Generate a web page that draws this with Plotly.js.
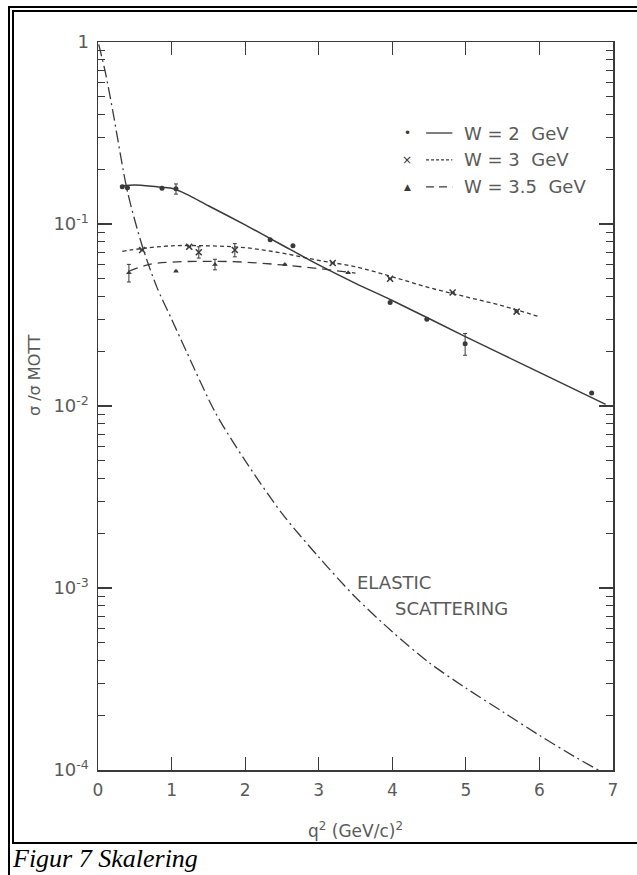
<!DOCTYPE html>
<html>
<head>
<meta charset="utf-8">
<script src="https://cdn.plot.ly/plotly-3.0.1.min.js"></script>
<style>
  html, body { margin:0; padding:0; background:#fff; }
  #wrap { position:relative; width:637px; height:875px; overflow:hidden; }
  #chart { position:absolute; left:0; top:0; width:637px; height:875px; }
  .ln { position:absolute; background:#000; pointer-events:none; }
</style>
</head>
<body>
<div id="wrap">
  <div id="chart"></div>
  <div class="ln" style="left:8px; top:6px; width:2px; height:869px;"></div>
  <div class="ln" style="left:8px; top:6px; width:629px; height:2px;"></div>
  <div class="ln" style="left:12px; top:10px; width:2px; height:834px;"></div>
  <div class="ln" style="left:12px; top:10px; width:625px; height:2px;"></div>
  <div class="ln" style="left:12px; top:842px; width:625px; height:2px;"></div>
</div>
<script>
// ---- data (q^2 in (GeV/c)^2, ratio sigma/sigma_Mott) ----
const elasticQ2    = [0.01, 0.1, 0.2, 0.4, 0.6, 0.8, 1.0, 1.2, 1.6, 2.0, 2.5, 3.0, 3.5, 4.0, 4.5, 5.0, 5.5, 6.0, 6.5, 6.8];
const elasticRatio = [0.97, 0.68, 0.42, 0.151, 0.076, 0.045, 0.030, 0.0200, 0.00912, 0.00501, 0.00257, 0.00148, 0.00089, 0.000575, 0.000389, 0.000282, 0.000209, 0.000155, 0.000117, 0.0001];

const w2FitQ2    = [0.33, 0.5, 0.8, 1.0, 1.2, 1.5, 2.0, 2.5, 3.0, 3.5, 4.0, 5.0, 6.0, 6.9];
const w2FitRatio = [0.162, 0.164, 0.160, 0.157, 0.146, 0.126, 0.0989, 0.0767, 0.0596, 0.0472, 0.0380, 0.0240, 0.0153, 0.0102];
const w2PtQ2     = [0.33, 0.40, 0.87, 1.06, 2.34, 2.65, 3.97, 4.47, 4.99, 6.71];
const w2PtRatio  = [0.160, 0.158, 0.157, 0.156, 0.082, 0.076, 0.037, 0.030, 0.022, 0.0118];
const w2PtErr    = [0, 0, 0, 0.010, 0, 0, 0, 0, 0.003, 0];

const w3FitQ2    = [0.33, 0.6, 1.0, 1.5, 2.0, 2.5, 3.0, 3.5, 4.0, 4.5, 5.0, 5.5, 6.0];
const w3FitRatio = [0.0708, 0.0733, 0.0759, 0.0759, 0.0741, 0.0692, 0.0631, 0.0582, 0.0513, 0.0447, 0.0398, 0.0355, 0.0309];
const w3PtQ2     = [0.60, 1.24, 1.37, 1.86, 3.19, 3.97, 4.82, 5.69];
const w3PtRatio  = [0.072, 0.075, 0.070, 0.072, 0.061, 0.050, 0.042, 0.033];
const w3PtErr    = [0, 0, 0.005, 0.006, 0, 0, 0, 0];

const w35FitQ2    = [0.42, 0.7, 1.0, 1.5, 2.0, 2.5, 3.0, 3.5];
const w35FitRatio = [0.055, 0.060, 0.0617, 0.0624, 0.0617, 0.0596, 0.0569, 0.0537];
const w35PtQ2     = [0.42, 1.06, 1.59, 2.54, 3.40];
const w35PtRatio  = [0.054, 0.055, 0.060, 0.060, 0.054];
const w35PtErr    = [0.006, 0, 0.004, 0, 0];

const xTickVals = [0, 1, 2, 3, 4, 5, 6, 7];
const yTickVals = [1e-4, 1e-3, 1e-2, 1e-1, 1];
const yTickText = ['10<sup>-4</sup>', '10<sup>-3</sup>', '10<sup>-2</sup>', '10<sup>-1</sup>', '1'];
const legendLabels = ['W = 2  GeV', 'W = 3  GeV', 'W = 3.5  GeV'];
const legendGlyphs = ['\u2022', '\u00d7', '\u25b2'];

// ---- styles ----
const ink = '#3a3a3a';
const txt = '#5a5a5a';
const fnt = 'DejaVu Sans, sans-serif';

const minorVals = [];
for (let e = -4; e < 0; e++) for (let m = 2; m <= 9; m++) minorVals.push(m * Math.pow(10, e));

function errBar(arr) {
  return {type: 'data', array: arr, visible: true, color: ink, thickness: 1, width: 2};
}

const traces = [
  {x: elasticQ2, y: elasticRatio, mode: 'lines', line: {color: ink, width: 1.3, dash: '12px,4px,2px,4px', shape: 'spline', smoothing: 0.8}, showlegend: false},
  {x: w2FitQ2, y: w2FitRatio, mode: 'lines', line: {color: ink, width: 1.5, shape: 'spline', smoothing: 0.8}, showlegend: false},
  {x: w3FitQ2, y: w3FitRatio, mode: 'lines', line: {color: ink, width: 1.3, dash: '4px,3px', shape: 'spline'}, showlegend: false},
  {x: w35FitQ2, y: w35FitRatio, mode: 'lines', line: {color: ink, width: 1.3, dash: '9px,6px', shape: 'spline'}, showlegend: false},
  {x: w2PtQ2, y: w2PtRatio, mode: 'markers', error_y: errBar(w2PtErr), marker: {symbol: 'circle', size: 5, color: ink}, showlegend: false},
  {x: w3PtQ2, y: w3PtRatio, mode: 'markers', error_y: errBar(w3PtErr), marker: {symbol: 'x-thin', size: 6, line: {color: ink, width: 1.5}}, showlegend: false},
  {x: w35PtQ2, y: w35PtRatio, mode: 'markers', error_y: errBar(w35PtErr), marker: {symbol: 'triangle-up', size: 5, color: ink}, showlegend: false}
];

// legend drawn as paper-anchored decoration
const legRowsY = [0.875, 0.838, 0.801];
const legDash = ['solid', '3px,2px', '8px,5px'];
const shapes = [];
const annotations = [];
legRowsY.forEach((yy, i) => {
  shapes.push({type: 'line', xref: 'paper', yref: 'paper', x0: 0.637, x1: 0.688, y0: yy, y1: yy,
               line: {color: ink, width: 1.3, dash: legDash[i]}});
  annotations.push({xref: 'paper', yref: 'paper', x: 0.600, y: yy, text: legendGlyphs[i], showarrow: false,
                    xanchor: 'center', yanchor: 'middle', font: {family: fnt, size: i === 2 ? 9 : 12, color: ink}});
  annotations.push({xref: 'paper', yref: 'paper', x: 0.707, y: yy, text: legendLabels[i], showarrow: false,
                    xanchor: 'left', yanchor: 'middle', font: {family: fnt, size: 18, color: txt}});
});
annotations.push({xref: 'paper', yref: 'paper', x: 0.499, y: 0.257, text: 'ELASTIC', showarrow: false,
                  xanchor: 'left', yanchor: 'middle', font: {family: fnt, size: 18, color: txt}});
annotations.push({xref: 'paper', yref: 'paper', x: 0.573, y: 0.2225, text: 'SCATTERING', showarrow: false,
                  xanchor: 'left', yanchor: 'middle', font: {family: fnt, size: 18, color: txt}});
annotations.push({xref: 'paper', yref: 'paper', x: -0.1223, y: 0.5426, text: '\u03c3 /\u03c3 MOTT', showarrow: false,
                  textangle: -90, xanchor: 'center', yanchor: 'middle', font: {family: fnt, size: 16, color: txt}});
annotations.push({xref: 'paper', yref: 'paper', x: 0.5, y: -0.083, text: 'q<sup>2</sup> (GeV/c)<sup>2</sup>', showarrow: false,
                  xanchor: 'center', yanchor: 'middle', font: {family: fnt, size: 17, color: txt}});
annotations.push({xref: 'paper', yref: 'paper', x: -0.171, y: -0.1215, text: 'Figur 7 Skalering', showarrow: false,
                  xanchor: 'left', yanchor: 'middle', font: {family: 'Liberation Serif, serif', size: 26, color: '#000', style: 'italic'}});

const layout = {
  width: 637, height: 875,
  margin: {l: 98, r: 24, t: 42, b: 105},
  paper_bgcolor: 'rgba(0,0,0,0)', plot_bgcolor: '#fff',
  showlegend: false,
  xaxis: {
    range: [0, 7], tickvals: xTickVals, ticks: 'inside', ticklen: 13, tickwidth: 1.2, tickcolor: ink,
    showline: true, linecolor: ink, linewidth: 1.5, mirror: 'ticks', showgrid: false, zeroline: false,
    tickfont: {family: fnt, size: 17, color: txt}, ticklabelstandoff: 4
  },
  yaxis: {
    type: 'log', range: [-4, 0], tickvals: yTickVals, ticktext: yTickText, ticks: 'inside', ticklen: 14,
    tickwidth: 1.2, tickcolor: ink, showline: true, linecolor: ink, linewidth: 1.5, mirror: 'ticks',
    showgrid: false, zeroline: false, tickfont: {family: fnt, size: 18, color: txt}, ticklabelstandoff: 4,
    minor: {tickmode: 'array', tickvals: minorVals, ticks: 'inside', ticklen: 7, tickwidth: 1, tickcolor: ink, showgrid: false}
  },
  shapes: shapes,
  annotations: annotations
};

Plotly.newPlot('chart', traces, layout, {displayModeBar: false, staticPlot: true});
</script>
</body>
</html>
